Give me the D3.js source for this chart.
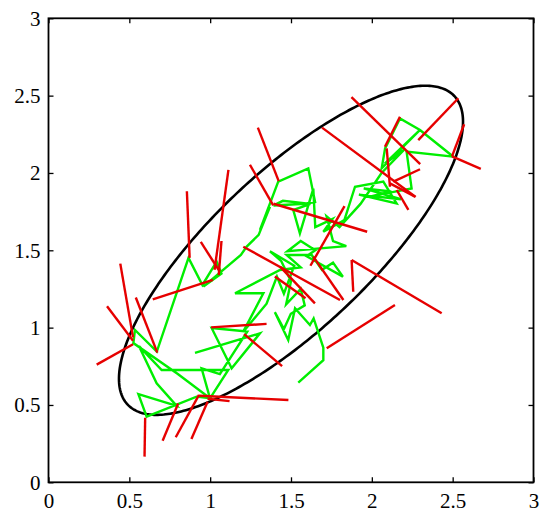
<!DOCTYPE html>
<html><head><meta charset="utf-8">
<script src="https://cdn.jsdelivr.net/npm/d3@7"></script>
<style>body{margin:0;background:#fff}svg{display:block}</style>
</head><body>
<script>
// ---- data ----
const xTicks = [0, 0.5, 1, 1.5, 2, 2.5, 3];
const yTicks = [0, 0.5, 1, 1.5, 2, 2.5, 3];
const xTickLabels = ["0", "0.5", "1", "1.5", "2", "2.5", "3"];
const yTickLabels = ["0", "0.5", "1", "1.5", "2", "2.5", "3"];
const ellipseCenter = [1.5, 1.5];
const ellipseAxes = [1.42, 0.498];   // semi-major, semi-minor
const ellipseAngleDeg = [45];

// green random-walk path (x, y)
const greenPoints = [
[0.906,0.837],[1.308,0.963],[1.133,0.737],[1.009,0.998],[1.230,0.975],[1.060,0.700],[0.947,0.737],[0.999,0.543],
[1.112,0.726],[0.700,0.726],[0.560,0.880],[0.669,0.640],[0.793,0.494],[0.556,0.570],[0.607,0.424],[0.916,0.554],
[0.999,0.543],[0.800,0.700],[0.525,0.900],[0.535,0.985],[0.670,0.845],[0.866,1.451],[0.952,1.276],[1.040,1.426],
[1.070,1.350],[0.958,1.265],[1.190,1.470],[1.226,1.524],[1.300,1.600],[1.370,1.782],[1.308,1.631],[1.421,1.944],
[1.607,2.030],[1.649,1.812],[1.585,1.801],[1.392,1.790],[1.450,1.820],[1.620,1.800],[1.514,1.760],[1.555,1.609],
[1.638,1.899],[1.650,1.650],[1.756,1.702],[1.700,1.620],[1.830,1.695],[1.896,1.911],[2.071,1.944],[2.153,1.803],
[1.920,1.860],[2.180,1.830],[1.950,1.900],[2.120,1.880],[2.000,1.850],[2.143,1.879],[2.246,1.900],[2.215,2.138],
[2.504,2.105],[2.298,2.278],[2.174,2.353],[2.082,2.159],[2.061,2.030],[2.298,2.278],[2.080,2.060],[2.200,2.150],
[2.060,2.000],[1.930,1.800],[1.800,1.650],[1.720,1.720],[1.760,1.560],[1.842,1.527],[1.478,1.494],[1.560,1.560],
[1.650,1.500],[1.596,1.462],[1.821,1.330],[1.760,1.420],[1.692,1.374],[1.628,1.470],[1.473,1.470],[1.560,1.390],
[1.432,1.373],[1.154,1.222],[1.329,1.222],[1.205,0.974],[1.349,1.155],[1.413,1.330],[1.456,1.220],[1.520,1.400],
[1.370,1.494],[1.440,1.430],[1.500,1.300],[1.470,1.150],[1.560,1.250],[1.585,1.144],[1.499,1.090],[1.456,0.991],
[1.400,1.100],[1.483,0.920],[1.525,1.125],[1.617,1.017],[1.640,1.060],[1.700,0.870],[1.700,0.790],[1.545,0.645]
];

// red segments [x1, y1, x2, y2]
const redSegments = [
[0.298,0.761,0.523,0.893],[0.362,1.138,0.523,0.915],[0.444,1.414,0.523,0.937],[0.540,1.195,0.673,0.838],
[0.598,0.418,0.594,0.166],[0.706,0.269,0.802,0.510],[0.787,0.291,0.931,0.565],[0.884,0.280,0.984,0.521],
[0.931,0.560,1.484,0.532],[0.984,0.540,1.120,0.525],[0.645,1.182,1.017,1.309],[0.856,1.882,0.873,1.451],
[0.942,1.554,1.059,1.363],[1.113,2.020,1.027,1.374],[1.070,1.560,1.053,1.340],[1.006,1.002,1.349,1.024],
[1.210,0.958,1.445,0.751],[1.295,2.293,1.424,1.947],[1.246,2.053,1.390,1.790],[1.392,1.801,1.971,1.620],
[1.692,2.293,2.271,1.845],[1.874,2.490,2.299,2.057],[2.535,2.483,2.287,2.212],[2.571,2.315,2.496,2.107],
[2.496,2.107,2.674,2.026],[2.174,2.364,2.081,2.170],[2.092,2.159,2.112,1.911],[2.298,2.024,2.133,1.944],
[2.226,1.761,2.154,1.890],[2.267,1.847,2.112,1.933],[1.831,1.786,1.620,1.400],[1.205,1.523,1.803,1.179],
[1.432,1.394,1.648,1.157],[1.400,1.330,1.590,1.190],[1.638,1.459,1.824,1.179],[1.875,1.437,2.432,1.093],
[1.875,1.437,1.885,1.232],[1.721,0.866,2.143,1.146]
];

// ---- layout ----
const W = 543, H = 529;
const L = 48.5, R = 533.5, T = 18.3, B = 482.3;
const svg = d3.select("body").append("svg").attr("width", W).attr("height", H);
const x = d3.scaleLinear().domain([0, 3]).range([L, R]);
const y = d3.scaleLinear().domain([0, 3]).range([B, T]);

// ellipse
const th = ellipseAngleDeg[0] * Math.PI / 180;
const ePts = d3.range(0, 361).map(i => {
  const t = i * Math.PI / 180;
  const u = ellipseAxes[0] * Math.cos(t), v = ellipseAxes[1] * Math.sin(t);
  return [ellipseCenter[0] + u * Math.cos(th) - v * Math.sin(th),
          ellipseCenter[1] + u * Math.sin(th) + v * Math.cos(th)];
});
const line = d3.line().x(d => x(d[0])).y(d => y(d[1]));
svg.append("path").attr("d", line(ePts)).attr("fill", "none")
  .attr("stroke", "#000").attr("stroke-width", 2.6);

// green path
svg.append("path").attr("d", line(greenPoints)).attr("fill", "none")
  .attr("stroke", "#00ee00").attr("stroke-width", 2.4).attr("stroke-linejoin", "miter");

// red segments
svg.append("g").selectAll("line").data(redSegments).join("line")
  .attr("x1", d => x(d[0])).attr("y1", d => y(d[1]))
  .attr("x2", d => x(d[2])).attr("y2", d => y(d[3]))
  .attr("stroke", "#e60000").attr("stroke-width", 2.4);

// axes
const font = "'Liberation Serif','Times New Roman',serif";
const ax = (g) => g.selectAll("text").attr("font-family", font).attr("font-size", 21).attr("fill", "#000");
svg.append("g").attr("transform", `translate(0,${B})`)
  .call(d3.axisBottom(x).tickValues(xTicks).tickFormat((d, i) => xTickLabels[i]).tickSize(-5).tickPadding(11))
  .call(ax);
svg.append("g").attr("transform", `translate(${L},0)`)
  .call(d3.axisLeft(y).tickValues(yTicks).tickFormat((d, i) => yTickLabels[i]).tickSize(-5).tickPadding(8))
  .call(ax);
svg.append("g").attr("transform", `translate(0,${T})`)
  .call(d3.axisTop(x).tickValues(xTicks).tickFormat("").tickSize(-5));
svg.append("g").attr("transform", `translate(${R},0)`)
  .call(d3.axisRight(y).tickValues(yTicks).tickFormat("").tickSize(-5));
svg.selectAll(".domain").remove();
svg.selectAll(".tick line").attr("stroke", "#000").attr("stroke-width", 1.3);
svg.append("rect").attr("x", L).attr("y", T).attr("width", R - L).attr("height", B - T)
  .attr("fill", "none").attr("stroke", "#000").attr("stroke-width", 1.8);
</script>
</body></html>
